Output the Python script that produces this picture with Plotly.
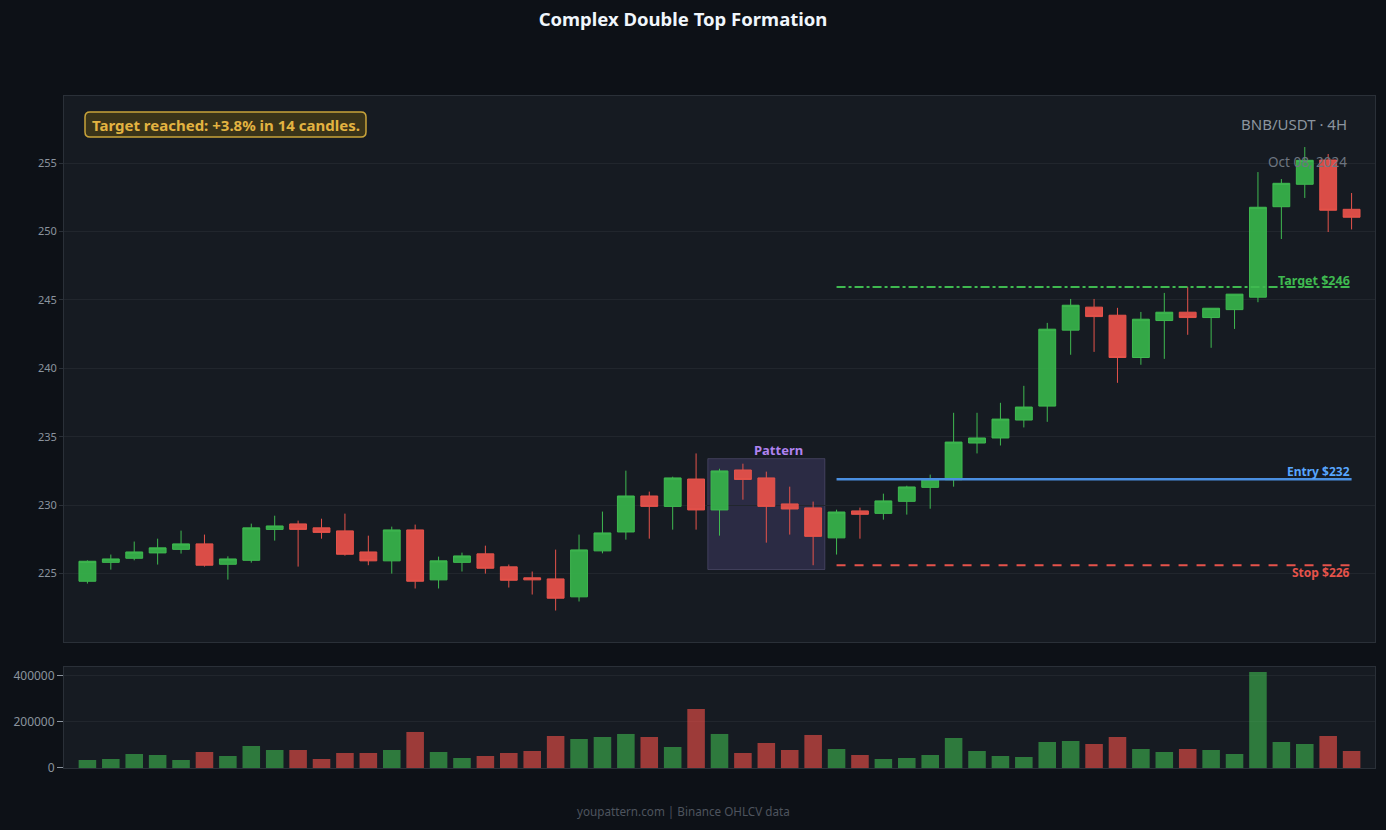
import pandas as pd
import plotly.graph_objects as go

# ---- data ----
opens = [224.44, 225.82, 226.12, 226.51, 226.77, 227.17, 225.68, 225.97, 228.23, 228.63,
         228.34, 228.12, 226.58, 225.93, 228.19, 224.54, 225.82, 226.44, 225.49, 224.69,
         224.61, 223.30, 226.66, 228.04, 230.67, 229.91, 231.91, 229.65, 232.57, 231.99,
         230.09, 229.80, 227.61, 229.58, 229.40, 230.28, 231.30, 231.86, 234.54, 234.91,
         236.22, 237.24, 242.79, 244.47, 243.88, 240.79, 243.49, 244.10, 243.71, 244.29,
         245.20, 251.81, 253.45, 255.22, 251.62]
highs = [225.97, 226.39, 227.34, 227.55, 228.14, 227.85, 226.26, 228.65, 229.23, 228.87,
         229.01, 229.38, 227.77, 228.43, 228.58, 226.24, 226.53, 227.04, 225.66, 225.15,
         226.75, 227.85, 229.53, 232.52, 230.99, 232.08, 233.78, 232.66, 233.03, 232.45,
         231.35, 230.26, 229.67, 229.82, 230.84, 231.42, 232.23, 236.75, 236.75, 237.48,
         238.72, 243.32, 245.07, 245.07, 244.42, 244.12, 245.51, 245.95, 244.39, 245.42,
         254.34, 253.83, 256.17, 255.66, 252.81]
lows = [224.27, 225.29, 225.97, 225.66, 226.46, 225.51, 224.56, 225.80, 227.41, 225.51,
        227.55, 226.31, 225.61, 225.00, 223.91, 223.91, 225.15, 225.00, 223.98, 223.47,
        222.30, 222.96, 226.48, 227.48, 227.55, 228.21, 228.21, 227.77, 230.40, 227.26,
        227.85, 225.61, 226.39, 227.55, 228.94, 229.31, 229.74, 231.35, 233.78, 234.36,
        235.68, 236.09, 240.99, 241.20, 238.94, 240.26, 240.69, 242.45, 241.50, 242.88,
        244.83, 249.45, 252.45, 249.96, 250.15]
closes = [225.90, 226.07, 226.58, 226.88, 227.17, 225.61, 226.07, 228.34, 228.48, 228.23,
          228.01, 226.41, 225.93, 228.19, 224.44, 225.93, 226.29, 225.39, 224.51, 224.54,
          223.20, 226.73, 227.97, 230.67, 229.91, 231.99, 229.65, 232.50, 231.88, 229.91,
          229.72, 227.72, 229.50, 229.33, 230.31, 231.33, 231.91, 234.61, 234.91, 236.29,
          237.17, 242.86, 244.61, 243.78, 240.79, 243.59, 244.10, 243.71, 244.39, 245.42,
          251.77, 253.52, 255.20, 251.55, 251.04]
volumes = [34800, 39150, 60900, 56550, 34800, 69600, 52200, 95700, 78300, 78300,
           39150, 65250, 65250, 78300, 156600, 69600, 43500, 52200, 65250, 73950,
           139200, 126150, 134850, 147900, 134850, 91350, 256650, 147900, 65250, 108750,
           78300, 143550, 82650, 56550, 39150, 43500, 56550, 130500, 73950, 52200,
           47850, 113100, 117450, 104400, 134850, 82650, 69600, 82650, 78300, 60900,
           417600, 113100, 104400, 139200, 73950]
dates = pd.date_range(end="2024-10-08 20:00", periods=len(opens), freq="4h")

price_ticks = [225, 230, 235, 240, 245, 250, 255]
volume_ticks = [0, 200000, 400000]

entry_price = 231.9
stop_price = 225.6
target_price = 245.95
pattern_low, pattern_high = 225.3, 233.4
pattern_start, pattern_end = 27, 31
levels_start, levels_end = 32, 54

UP, DOWN = "#3fb950", "#f85149"
BG, PLOT_BG = "#0d1117", "#161b22"
GRID, AXIS = "#21262d", "#2a3038"
MUTED = "#8b949e"
FONT = "Noto Sans"

vol_colors = [UP if c >= o else DOWN for o, c in zip(opens, closes)]
half = pd.Timedelta(hours=2)

fig = go.Figure()
fig.add_trace(go.Candlestick(
    x=dates, open=opens, high=highs, low=lows, close=closes,
    increasing=dict(line=dict(color=UP, width=1), fillcolor="rgba(54,176,74,0.95)"),
    decreasing=dict(line=dict(color="#e5534b", width=1), fillcolor="rgba(229,80,74,0.95)"),
    whiskerwidth=0, showlegend=False, xaxis="x", yaxis="y", name="BNB/USDT"))
fig.add_trace(go.Bar(
    x=dates, y=volumes, marker=dict(color=vol_colors, line=dict(width=0)), opacity=0.6,
    showlegend=False, xaxis="x2", yaxis="y2", name="Volume"))

xr = [dates[0] - pd.Timedelta(hours=4), dates[-1] + pd.Timedelta(hours=4)]
axis_common = dict(showline=True, mirror=True, linecolor=AXIS, linewidth=1, zeroline=False)
fig.update_layout(
    width=1386, height=830,
    paper_bgcolor=BG, plot_bgcolor=PLOT_BG,
    margin=dict(l=64, r=11, t=96, b=62),
    font=dict(family=FONT, color=MUTED),
    title=dict(text="<b>Complex Double Top Formation</b>", x=683 / 1386, xanchor="center",
               y=1 - 20 / 830, yanchor="middle", font=dict(size=18.5, color="#f0f6fc")),
    bargap=0.25, boxgap=0.28, boxgroupgap=0,
    xaxis=dict(domain=[0, 1], anchor="y", range=xr, showticklabels=False, showgrid=False,
               rangeslider=dict(visible=False), **axis_common),
    yaxis=dict(domain=[0.1875, 1], anchor="x", range=[220.0, 259.9], tickvals=price_ticks,
               showgrid=True, gridcolor=GRID, ticks="outside", ticklen=4, tickcolor=AXIS,
               tickfont=dict(color=MUTED, size=11, family=FONT), **axis_common),
    xaxis2=dict(domain=[0, 1], anchor="y2", matches="x", showticklabels=False, showgrid=False,
                **axis_common),
    yaxis2=dict(domain=[0, 0.1503], anchor="x2", range=[0, 439000], tickvals=volume_ticks,
                ticktext=[str(v) for v in volume_ticks], showgrid=True, gridcolor=GRID,
                ticks="outside", ticklen=6, tickcolor=MUTED,
                tickfont=dict(color=MUTED, size=12, family=FONT), **axis_common),
)

# pattern box
fig.add_shape(type="rect", xref="x", yref="y",
              x0=dates[pattern_start] - half, x1=dates[pattern_end] + half,
              y0=pattern_low, y1=pattern_high,
              fillcolor="rgba(120,100,190,0.22)", line=dict(color="rgba(130,120,170,0.35)", width=1),
              layer="below")
fig.add_annotation(x=dates[29] + half, y=pattern_high, xref="x", yref="y", text="<b>Pattern</b>",
                   showarrow=False, yanchor="bottom", yshift=-2,
                   font=dict(color="#b083f0", size=13, family=FONT))

# level lines
x0l, x1l = dates[levels_start], dates[levels_end]
fig.add_shape(type="line", xref="x", yref="y", x0=x0l, x1=x1l, y0=entry_price, y1=entry_price,
              line=dict(color="#4a8fe0", width=2.5))
fig.add_shape(type="line", xref="x", yref="y", x0=x0l, x1=x1l, y0=stop_price, y1=stop_price,
              line=dict(color="#e5534b", width=2, dash="dash"))
fig.add_shape(type="line", xref="x", yref="y", x0=x0l, x1=x1l, y0=target_price, y1=target_price,
              line=dict(color="#3fb950", width=2, dash="dashdot"))
fig.add_annotation(x=x1l, y=entry_price, xref="x", yref="y", text="<b>Entry $232</b>",
                   showarrow=False, xanchor="right", yanchor="bottom", yshift=-3,
                   font=dict(color="#58a6ff", size=12, family=FONT))
fig.add_annotation(x=x1l, y=stop_price, xref="x", yref="y", text="<b>Stop $226</b>",
                   showarrow=False, xanchor="right", yanchor="top", yshift=3,
                   font=dict(color="#e5534b", size=12, family=FONT))
fig.add_annotation(x=x1l, y=target_price, xref="x", yref="y", text="<b>Target $246</b>",
                   showarrow=False, xanchor="right", yanchor="bottom", yshift=-4,
                   font=dict(color="#3fb950", size=12.5, family=FONT))

# top-left rounded info box
W, H = 1311.0, 672.0
px0, px1, py_top, py_bot = 85, 366, 112, 137
bx0, bx1 = (px0 - 64) / W, (px1 - 64) / W
by1, by0 = (768 - py_top) / H, (768 - py_bot) / H
rx, ry = 5 / W, 5 / H
path = (f"M {bx0+rx},{by0} L {bx1-rx},{by0} Q {bx1},{by0} {bx1},{by0+ry} "
        f"L {bx1},{by1-ry} Q {bx1},{by1} {bx1-rx},{by1} L {bx0+rx},{by1} "
        f"Q {bx0},{by1} {bx0},{by1-ry} L {bx0},{by0+ry} Q {bx0},{by0} {bx0+rx},{by0} Z")
fig.add_shape(type="path", xref="paper", yref="paper", path=path,
              fillcolor="#3a3419", line=dict(color="#c9a43a", width=1.5), layer="above")
fig.add_annotation(x=(bx0 + bx1) / 2, y=(by0 + by1) / 2, xref="paper", yref="paper",
                   text="<b>Target reached: +3.8% in 14 candles.</b>", showarrow=False,
                   xanchor="center", yanchor="middle",
                   font=dict(color="#e3b341", size=15, family=FONT))

# top-right labels
fig.add_annotation(x=(1349 - 64) / W, y=(768 - 124) / H, xref="paper", yref="paper",
                   text="BNB/USDT · 4H", showarrow=False, xanchor="right", yanchor="middle",
                   font=dict(color=MUTED, size=15, family=FONT))
fig.add_annotation(x=(1349 - 64) / W, y=(768 - 162) / H, xref="paper", yref="paper",
                   text="Oct 08, 2024", showarrow=False, xanchor="right", yanchor="middle",
                   font=dict(color="#6e7681", size=13.5, family=FONT))

# footer
fig.add_annotation(x=(683 - 64) / W, y=(768 - 811) / H, xref="paper", yref="paper",
                   text="youpattern.com | Binance OHLCV data", showarrow=False,
                   xanchor="center", yanchor="middle",
                   font=dict(color="#4d545e", size=11.7, family=FONT))

fig.write_html("out.html")
